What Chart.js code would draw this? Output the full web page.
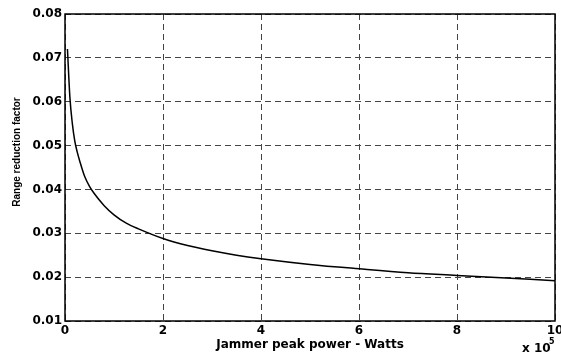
<!DOCTYPE html>
<html>
<head>
<meta charset="utf-8">
<script src="https://cdn.jsdelivr.net/npm/chart.js@4"></script>
<style>
  html,body{margin:0;padding:0;background:#fff;}
  #wrap{width:561px;height:358px;position:relative;}
</style>
</head>
<body>
<div id="wrap"><canvas id="rangeChart"></canvas></div>
<script>
// jammer peak power, in units of 1e5 W
const powerValues = [0.05, 0.1, 0.15, 0.2, 0.25, 0.3, 0.4, 0.5, 0.6, 0.8, 1.0, 1.25, 1.5, 2, 2.5, 3, 3.5, 4, 5, 6, 7, 8, 9, 10];
// range reduction factor
const reductionValues = [0.072, 0.061, 0.055, 0.051, 0.0485, 0.0465, 0.043, 0.0407, 0.039, 0.0363, 0.0342, 0.0323, 0.031, 0.0288, 0.0272, 0.026, 0.025, 0.0242, 0.0229, 0.0219, 0.021, 0.0204, 0.0198, 0.0192];
const xTicks = [0, 2, 4, 6, 8, 10];
const yTicks = [0.01, 0.02, 0.03, 0.04, 0.05, 0.06, 0.07, 0.08];

const points = powerValues.map((p, i) => ({x: p, y: reductionValues[i]}));

const frame = {
    id: 'frame',
    afterDraw(chart){
        const {ctx, chartArea: a} = chart;
        ctx.save();
        ctx.strokeStyle = '#000';
        ctx.lineWidth = 1.5;
        ctx.setLineDash([]);
        ctx.strokeRect(a.left, a.top, a.right - a.left, a.bottom - a.top);
        ctx.fillStyle = '#000';
        ctx.textBaseline = 'middle';
        ctx.textAlign = 'center';
        ctx.font = 'bold 12px "DejaVu Sans"';
        ctx.fillText('Jammer peak power - Watts', (a.left + a.right) / 2, 345);
        ctx.textAlign = 'left';
        ctx.fillText('x 10', 522, 349);
        ctx.font = 'bold 8px "DejaVu Sans"';
        ctx.fillText('5', 549, 342);
        ctx.translate(17, 152);
        ctx.rotate(-Math.PI / 2);
        ctx.textAlign = 'center';
        ctx.font = 'bold 10px "Liberation Sans"';
        ctx.fillText('Range reduction factor', 0, 0);
        ctx.restore();
    }
};

new Chart(document.getElementById('rangeChart').getContext('2d'), {
    type: 'line',
    data: {
        datasets: [{
            data: points,
            borderColor: '#000',
            borderWidth: 1.5,
            pointRadius: 0,
            fill: false,
            cubicInterpolationMode: 'monotone'
        }]
    },
    options: {
        responsive: true,
        maintainAspectRatio: false,
        animation: false,
        layout: {padding: {top: 14, right: 6, left: 0, bottom: 0}},
        scales: {
            x: {
                type: 'linear', min: 0, max: 10,
                afterBuildTicks: s => { s.ticks = xTicks.map(v => ({value: v})); },
                afterFit: s => { s.height = 37; s.paddingRight = 0; s.paddingLeft = 0; },
                grid: {color: '#444', lineWidth: 1, tickLength: 0, drawTicks: false},
                border: {display: false, dash: [6, 4]},
                ticks: {color: '#000', padding: 3, maxRotation: 0, font: {family: 'DejaVu Sans', weight: 'bold', size: 12}}
            },
            y: {
                min: 0.01, max: 0.08,
                afterBuildTicks: s => { s.ticks = yTicks.map(v => ({value: v})); },
                afterFit: s => { s.width = 65; s.paddingTop = 0; s.paddingBottom = 0; },
                grid: {color: '#444', lineWidth: 1, drawTicks: false},
                border: {display: false, dash: [6, 4]},
                ticks: {color: '#000', padding: 3, font: {family: 'DejaVu Sans', weight: 'bold', size: 12},
                    callback: v => v.toFixed(2)}
            }
        },
        plugins: {legend: {display: false}, tooltip: {enabled: false}}
    },
    plugins: [frame]
});
</script>
</body>
</html>
